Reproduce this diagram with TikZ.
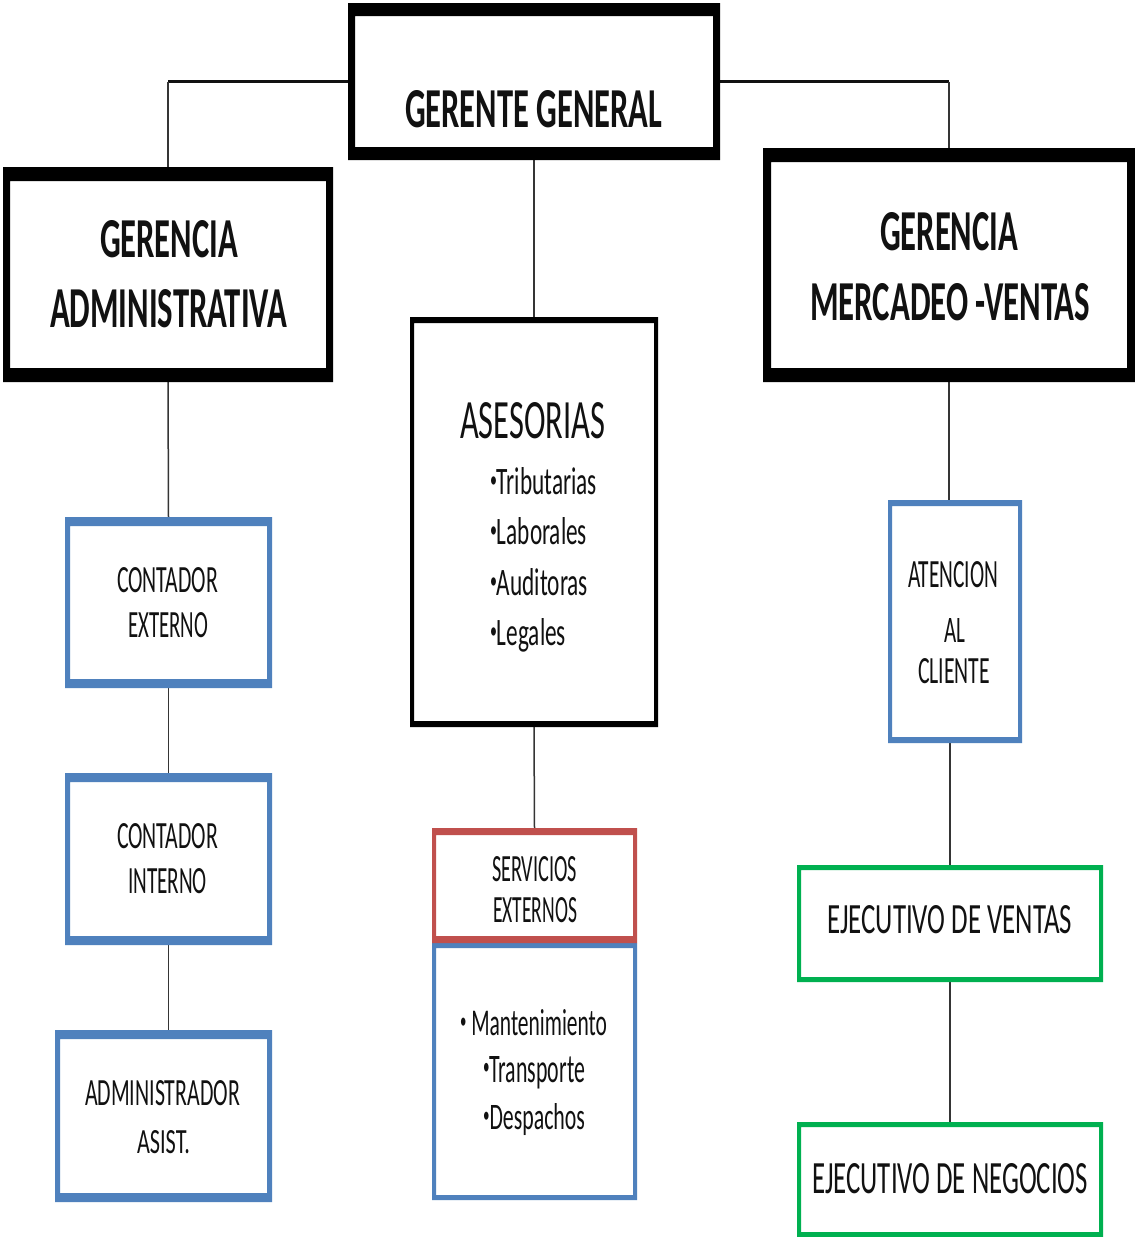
\documentclass[tikz,border=0pt]{standalone}
\usepackage{fontspec}
\setmainfont{Carlito}
\usepackage{graphicx}
\definecolor{obox}{HTML}{4F81BD}
\definecolor{rbox}{HTML}{C0504D}
\definecolor{gbox}{HTML}{00B050}
\definecolor{ink}{HTML}{111111}
\tikzset{
  box/.style={rectangle,inner sep=0pt,outer sep=0pt,draw=none},
  hline/.style={line width=3pt,ink},
  vline/.style={line width=1.5pt,ink!85},
}
\newcommand\frameof[4]{\fill[#2,even odd rule] (#1.north west) rectangle (#1.south east) ([xshift=#3pt,yshift=-#4pt]#1.north west) rectangle ([xshift=-#3pt,yshift=#4pt]#1.south east);}
\newcommand\tline[6]{\node[anchor=base west,inner sep=0pt,outer sep=0pt,text=ink] (#1) at (#2,#3) {\resizebox{#4pt}{#5pt}{#6}};}
\newcommand\bul{\raisebox{0.18em}{\scalebox{0.6}{•}}}
\begin{document}
\begin{tikzpicture}[x=1pt,y=-1pt]
\useasboundingbox (0,0) rectangle (1135,1237);
\fill[white] (0,0) rectangle (1135,1237);
% boxes
\node[box,minimum width=372pt,minimum height=157pt] (gg) at (534,81.5) {};
\node[box,minimum width=330pt,minimum height=215pt] (ga) at (168,274.5) {};
\node[box,minimum width=372pt,minimum height=234pt] (gm) at (949,265) {};
\node[box,minimum width=248pt,minimum height=410pt] (as) at (534,522) {};
\node[box,minimum width=207pt,minimum height=171pt] (ce) at (168.5,602.5) {};
\node[box,minimum width=207pt,minimum height=172pt] (ci) at (168.5,859) {};
\node[box,minimum width=217pt,minimum height=172pt] (ad) at (163.5,1116) {};
\node[box,minimum width=205pt,minimum height=115pt] (se) at (534.5,885.5) {};
\node[box,minimum width=205pt,minimum height=257pt] (sl) at (534.5,1071.5) {};
\node[box,minimum width=134pt,minimum height=243pt] (at) at (955,621.5) {};
\node[box,minimum width=306pt,minimum height=117pt] (ev) at (950,923.5) {};
\node[box,minimum width=306pt,minimum height=115pt] (en) at (950,1179.5) {};
% connectors
\coordinate (cl) at (ga.north |- gg.west);
\coordinate (cr) at (gm.north |- gg.east);
\draw[hline] (gg.west) -- (cl);
\draw[vline] (cl) -- (ga.north);
\draw[hline] (gg.east) -- (cr);
\draw[vline] (cr) -- (gm.north);
\draw[vline] (gg.south) -- (as.north);
\draw[vline] (ga.south) -- (ce.north);
\draw[vline] (ce.south) -- (ci.north);
\draw[vline] (ci.south) -- (ci.south |- ad.north);
\draw[vline] (as.south) -- (se.north);
\draw[vline] (gm.south) -- (gm.south |- at.north);
\draw[vline] (ev.north |- at.south) -- (ev.north);
\draw[vline] (ev.south) -- (en.north);
% frames
\frameof{gg}{black}{7}{13}
\frameof{ga}{black}{7}{14}
\frameof{gm}{black}{8}{14}
\frameof{as}{black}{4}{6}
\frameof{ce}{obox}{5}{9}
\frameof{ci}{obox}{5}{9}
\frameof{ad}{obox}{5}{9}
\frameof{sl}{obox}{4}{5}
\frameof{se}{rbox}{4}{7}
\frameof{at}{obox}{4}{6}
\frameof{ev}{gbox}{4}{5}
\frameof{en}{gbox}{4}{5}
% texts
\tline{t1}{405}{127}{257}{37}{\bfseries GERENTE GENERAL}
\tline{t2}{100}{257}{138}{37}{\bfseries GERENCIA}
\tline{t3}{50}{327}{237}{38}{\bfseries ADMINISTRATIVA}
\tline{t4}{880}{250}{138}{38}{\bfseries GERENCIA}
\tline{t5}{810}{320}{280}{37}{\bfseries MERCADEO -VENTAS}
\tline{t6}{460}{438}{145}{36}{ASESORIAS}
\tline{t7}{490}{494}{107}{27}{\bul Tributarias}
\tline{t8}{490}{544}{97}{27}{\bul Laborales}
\tline{t9}{490}{595}{98}{27}{\bul Auditoras}
\tline{t10}{490}{645}{76}{27}{\bul Legales}
\tline{t11}{117}{592}{101}{25}{CONTADOR}
\tline{t12}{128}{637}{80}{25}{EXTERNO}
\tline{t13}{117}{848}{101}{25}{CONTADOR}
\tline{t14}{128}{893}{79}{25}{INTERNO}
\tline{t15}{85}{1105}{155}{25}{ADMINISTRADOR}
\tline{t16}{137}{1153}{53}{23}{ASIST.}
\tline{t17}{492}{881}{85}{25}{SERVICIOS}
\tline{t18}{493}{922}{84}{25}{EXTERNOS}
\tline{t19}{460}{1035}{147}{26}{\bul\ Mantenimiento}
\tline{t20}{483}{1082}{102}{26}{\bul Transporte}
\tline{t21}{483}{1129}{102}{26}{\bul Despachos}
\tline{t22}{908}{587}{90}{26}{ATENCION}
\tline{t23}{944}{642}{21}{24}{AL}
\tline{t24}{918}{683}{72}{25}{CLIENTE}
\tline{t25}{827}{933}{245}{28}{EJECUTIVO DE VENTAS}
\tline{t26}{812}{1193}{276}{30}{EJECUTIVO DE NEGOCIOS}
\end{tikzpicture}
\end{document}
